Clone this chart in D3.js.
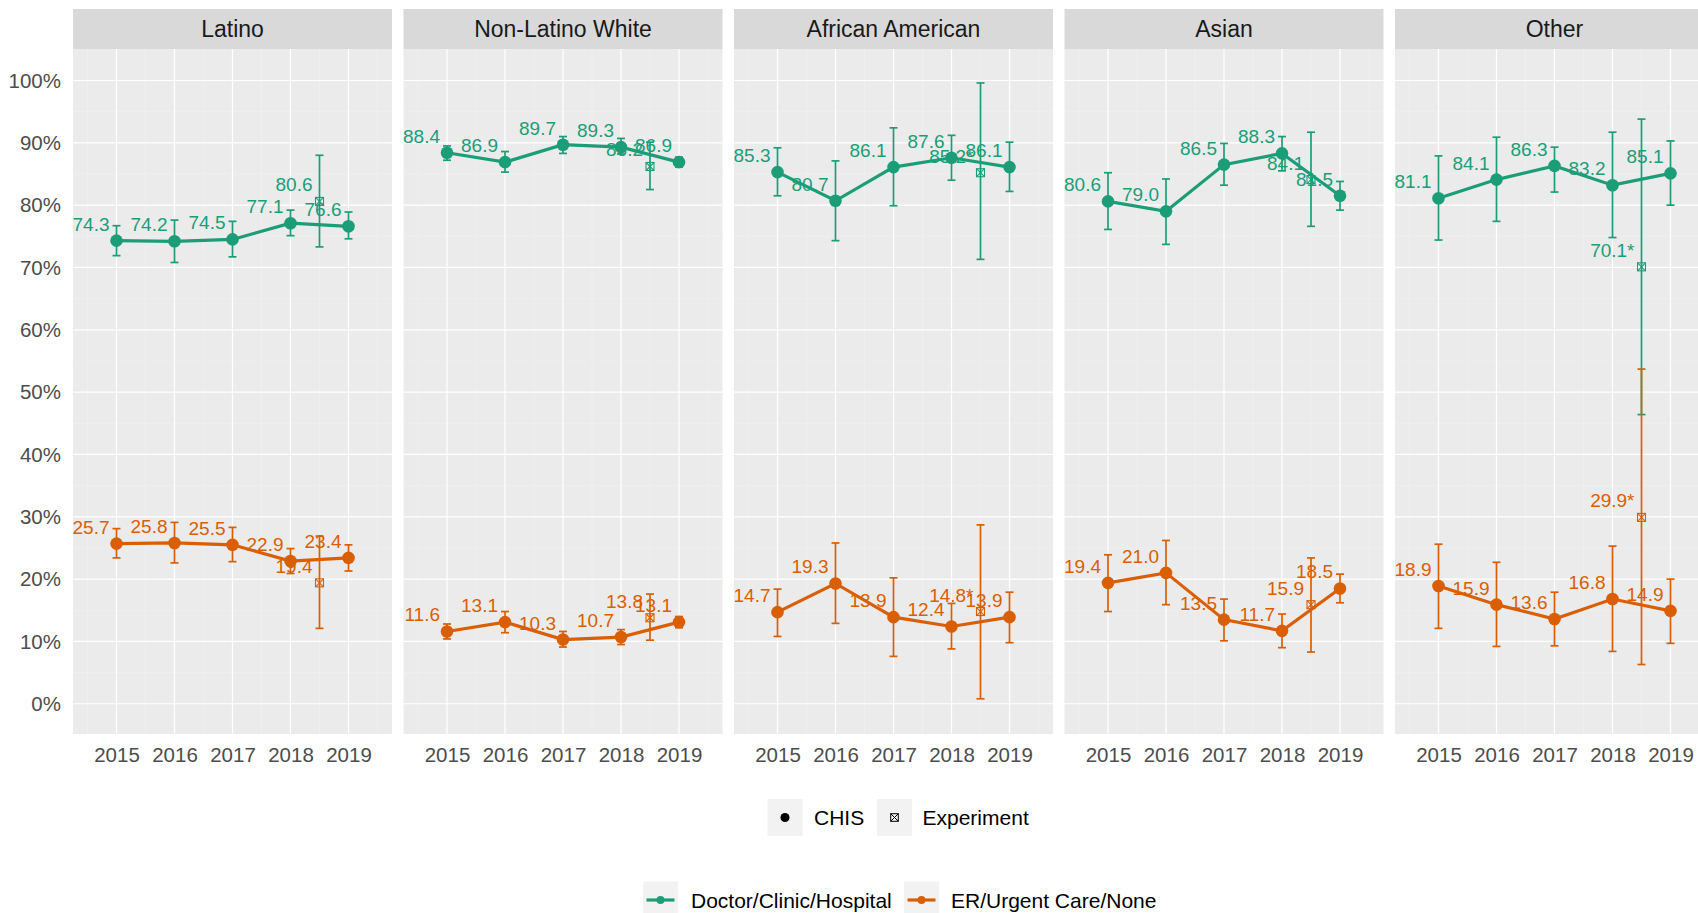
<!DOCTYPE html>
<html>
<head>
<meta charset="utf-8">
<script src="https://cdn.jsdelivr.net/npm/d3@7"></script>
<style>
  html, body { margin: 0; padding: 0; background: #ffffff; }
  svg { display: block; font-family: "Liberation Sans", Arial, sans-serif; }
</style>
</head>
<body>
<svg id="chart" width="1698" height="913"></svg>
<script>
// ---------------- data ----------------
const groups = ["Latino", "Non-Latino White", "African American", "Asian", "Other"];
const years = [2015, 2016, 2017, 2018, 2019];
const yearTicks = ["2015", "2016", "2017", "2018", "2019"];
const expYear = 2018.5;
const yTicks = [0, 10, 20, 30, 40, 50, 60, 70, 80, 90, 100];
const seriesNames = ["Doctor/Clinic/Hospital", "ER/Urgent Care/None"];
const sourceNames = ["CHIS", "Experiment"];

// CHIS: Doctor/Clinic/Hospital
const doctorValues = [
  [74.3, 74.2, 74.5, 77.1, 76.6],
  [88.4, 86.9, 89.7, 89.3, 86.9],
  [85.3, 80.7, 86.1, 87.6, 86.1],
  [80.6, 79.0, 86.5, 88.3, 81.5],
  [81.1, 84.1, 86.3, 83.2, 85.1]
];
const doctorLow = [
  [71.9, 70.8, 71.7, 75.1, 74.6],
  [87.2, 85.3, 88.3, 88.2, 86.1],
  [81.5, 74.3, 79.9, 84.0, 82.2],
  [76.1, 73.7, 83.2, 85.5, 79.2],
  [74.4, 77.4, 82.1, 74.8, 80.0]
];
const doctorHigh = [
  [76.7, 77.6, 77.4, 79.2, 78.9],
  [89.5, 88.6, 91.0, 90.7, 87.7],
  [89.2, 87.1, 92.4, 91.2, 90.1],
  [85.2, 84.2, 89.9, 91.0, 83.8],
  [87.9, 90.9, 89.3, 91.7, 90.3]
];
// CHIS: ER/Urgent Care/None
const erValues = [
  [25.7, 25.8, 25.5, 22.9, 23.4],
  [11.6, 13.1, 10.3, 10.7, 13.1],
  [14.7, 19.3, 13.9, 12.4, 13.9],
  [19.4, 21.0, 13.5, 11.7, 18.5],
  [18.9, 15.9, 13.6, 16.8, 14.9]
];
const erLow = [
  [23.4, 22.6, 22.8, 20.9, 21.3],
  [10.4, 11.4, 9.1, 9.5, 12.2],
  [10.8, 12.9, 7.6, 8.8, 9.8],
  [14.8, 15.9, 10.1, 9.0, 16.2],
  [12.1, 9.2, 9.3, 8.4, 9.7]
];
const erHigh = [
  [28.1, 29.1, 28.3, 24.9, 25.5],
  [12.8, 14.8, 11.6, 11.9, 14.0],
  [18.4, 25.8, 20.2, 16.1, 17.9],
  [23.9, 26.2, 16.8, 14.4, 20.8],
  [25.6, 22.7, 17.9, 25.3, 20.0]
];
// Experiment (one estimate per group)
const expDoctorValues = [80.6, 86.2, 85.2, 84.1, 70.1];
const expDoctorLow = [73.3, 82.5, 71.3, 76.6, 46.4];
const expDoctorHigh = [88.0, 90.1, 99.6, 91.7, 93.8];
const expDoctorLabels = ["80.6", "86.2", "85.2*", "84.1", "70.1*"];
const expErValues = [19.4, 13.8, 14.8, 15.9, 29.9];
const expErLow = [12.1, 10.2, 0.8, 8.3, 6.3];
const expErHigh = [26.9, 17.6, 28.7, 23.4, 53.7];
const expErLabels = ["19.4", "13.8", "14.8*", "15.9", "29.9*"];

// ---------------- styling / layout ----------------
const colors = ["#1b9e77", "#d95f02"];
const panelLeft0 = 73, panelStep = 330.5, panelW = 319;
const panelTop = 49, panelBottom = 734, stripTop = 9;

const svg = d3.select("#chart");
svg.append("rect").attr("width", 1698).attr("height", 913).attr("fill", "#ffffff");

const y = d3.scaleLinear().domain([-4.85, 105.05]).range([panelBottom, panelTop]);

// y axis labels (left only)
const yAxis = d3.axisLeft(y).tickValues(yTicks).tickFormat(d => d + "%").tickSize(0).tickPadding(0);
const yg = svg.append("g").attr("transform", `translate(${panelLeft0 - 12},0)`).call(yAxis);
yg.select(".domain").remove();
yg.selectAll("text").attr("font-size", 20.5).attr("fill", "#4d4d4d")
  .attr("font-family", "Liberation Sans, Arial, sans-serif");

const series = [
  { vals: doctorValues, lo: doctorLow, hi: doctorHigh, ev: expDoctorValues, elo: expDoctorLow, ehi: expDoctorHigh, el: expDoctorLabels },
  { vals: erValues, lo: erLow, hi: erHigh, ev: expErValues, elo: expErLow, ehi: expErHigh, el: expErLabels }
];

groups.forEach((gname, gi) => {
  const left = panelLeft0 + gi * panelStep;
  const x = d3.scaleLinear().domain([2014.25, 2019.75]).range([left, left + panelW]);
  const g = svg.append("g");

  // panel background
  g.append("rect").attr("x", left).attr("y", panelTop).attr("width", panelW)
    .attr("height", panelBottom - panelTop).attr("fill", "#ebebeb");
  // minor grid
  const yMinor = d3.range(5, 101, 10);
  g.selectAll(".ymin").data(yMinor).join("line")
    .attr("x1", left).attr("x2", left + panelW)
    .attr("y1", d => y(d)).attr("y2", d => y(d))
    .attr("stroke", "#f1f1f1").attr("stroke-width", 0.6);
  const xMinor = [2014.5, 2015.5, 2016.5, 2017.5, 2018.5, 2019.5];
  g.selectAll(".xmin").data(xMinor).join("line")
    .attr("x1", d => x(d)).attr("x2", d => x(d))
    .attr("y1", panelTop).attr("y2", panelBottom)
    .attr("stroke", "#f1f1f1").attr("stroke-width", 0.6);
  // major grid
  g.selectAll(".ymaj").data(yTicks).join("line")
    .attr("x1", left).attr("x2", left + panelW)
    .attr("y1", d => y(d)).attr("y2", d => y(d))
    .attr("stroke", "#ffffff").attr("stroke-width", 1.2);
  g.selectAll(".xmaj").data(years).join("line")
    .attr("x1", d => x(d)).attr("x2", d => x(d))
    .attr("y1", panelTop).attr("y2", panelBottom)
    .attr("stroke", "#ffffff").attr("stroke-width", 1.2);

  // strip
  g.append("rect").attr("x", left).attr("y", stripTop).attr("width", panelW)
    .attr("height", panelTop - stripTop).attr("fill", "#d9d9d9");
  g.append("text").attr("x", left + panelW / 2).attr("y", (stripTop + panelTop) / 2 + 8)
    .attr("text-anchor", "middle").attr("font-size", 23).attr("fill", "#1a1a1a").text(gname);

  // x axis labels
  const xAxis = d3.axisBottom(x).tickValues(years).tickFormat((d, i) => yearTicks[i]).tickSize(0).tickPadding(0);
  const xg = g.append("g").attr("transform", `translate(0,${panelBottom + 13})`).call(xAxis);
  xg.select(".domain").remove();
  xg.selectAll("text").attr("font-size", 20.5).attr("fill", "#4d4d4d")
    .attr("font-family", "Liberation Sans, Arial, sans-serif");

  const capW = 4;
  // errorbars
  series.forEach((s, si) => {
    const col = colors[si];
    const eb = years.map((yr, i) => ({ x: yr, lo: s.lo[gi][i], hi: s.hi[gi][i] }));
    eb.push({ x: expYear, lo: s.elo[gi], hi: s.ehi[gi] });
    const ebg = g.append("g").attr("stroke", col).attr("stroke-width", 1.7).attr("fill", "none");
    ebg.selectAll(".v").data(eb).join("line")
      .attr("x1", d => x(d.x)).attr("x2", d => x(d.x))
      .attr("y1", d => y(d.lo)).attr("y2", d => y(d.hi));
    ebg.selectAll(".t").data(eb).join("line")
      .attr("x1", d => x(d.x) - capW).attr("x2", d => x(d.x) + capW)
      .attr("y1", d => y(d.hi)).attr("y2", d => y(d.hi));
    ebg.selectAll(".b").data(eb).join("line")
      .attr("x1", d => x(d.x) - capW).attr("x2", d => x(d.x) + capW)
      .attr("y1", d => y(d.lo)).attr("y2", d => y(d.lo));
  });
  // lines, points, markers
  series.forEach((s, si) => {
    const col = colors[si];
    const pts = years.map((yr, i) => ({ x: yr, v: s.vals[gi][i] }));
    g.append("path").datum(pts)
      .attr("d", d3.line().x(d => x(d.x)).y(d => y(d.v)))
      .attr("fill", "none").attr("stroke", col).attr("stroke-width", 3.2);
    g.selectAll(null).data(pts).join("circle")
      .attr("cx", d => x(d.x)).attr("cy", d => y(d.v)).attr("r", 6.3).attr("fill", col);
    // experiment marker: square cross
    const ex = x(expYear), ey = y(s.ev[gi]), h = 4;
    const mk = g.append("g").attr("stroke", col).attr("stroke-width", 1.1).attr("fill", "none");
    mk.append("rect").attr("x", ex - h).attr("y", ey - h).attr("width", 2 * h).attr("height", 2 * h);
    mk.append("line").attr("x1", ex - h).attr("y1", ey - h).attr("x2", ex + h).attr("y2", ey + h);
    mk.append("line").attr("x1", ex - h).attr("y1", ey + h).attr("x2", ex + h).attr("y2", ey - h);
  });
  // labels
  series.forEach((s, si) => {
    const col = colors[si];
    const labs = years.map((yr, i) => ({ x: yr, v: s.vals[gi][i], t: s.vals[gi][i].toFixed(1) }));
    labs.push({ x: expYear, v: s.ev[gi], t: s.el[gi] });
    g.selectAll(null).data(labs).join("text")
      .attr("x", d => x(d.x) - 7).attr("y", d => y(d.v) - 10)
      .attr("text-anchor", "end").attr("font-size", 19).attr("fill", col).text(d => d.t);
  });
});

// ---------------- legends ----------------
const leg = svg.append("g");
const keyW = 35, keyH = 37;
// row 1: source (shape)
const r1y = 799;
[[767.5, 814], [877, 922.5]].forEach((pos, i) => {
  leg.append("rect").attr("x", pos[0]).attr("y", r1y).attr("width", keyW).attr("height", keyH).attr("fill", "#f2f2f2");
  const cx = pos[0] + keyW / 2, cy = r1y + keyH / 2;
  if (i === 0) {
    leg.append("circle").attr("cx", cx).attr("cy", cy).attr("r", 4.5).attr("fill", "#000");
  } else {
    const h = 3.8;
    const m = leg.append("g").attr("stroke", "#000").attr("stroke-width", 1).attr("fill", "none");
    m.append("rect").attr("x", cx - h).attr("y", cy - h).attr("width", 2 * h).attr("height", 2 * h);
    m.append("line").attr("x1", cx - h).attr("y1", cy - h).attr("x2", cx + h).attr("y2", cy + h);
    m.append("line").attr("x1", cx - h).attr("y1", cy + h).attr("x2", cx + h).attr("y2", cy - h);
  }
  leg.append("text").attr("x", pos[1]).attr("y", cy + 7.5).attr("font-size", 21).attr("fill", "#000")
    .text(sourceNames[i]);
});
// row 2: series (colour)
const r2y = 881.5;
[[643, 691], [904, 951]].forEach((pos, i) => {
  leg.append("rect").attr("x", pos[0]).attr("y", r2y).attr("width", keyW).attr("height", keyH).attr("fill", "#f2f2f2");
  const cy = 900;
  leg.append("line").attr("x1", pos[0] + 3.5).attr("x2", pos[0] + keyW - 3.5)
    .attr("y1", cy).attr("y2", cy).attr("stroke", colors[i]).attr("stroke-width", 3.2);
  leg.append("circle").attr("cx", pos[0] + keyW / 2).attr("cy", cy).attr("r", 4).attr("fill", colors[i]);
  leg.append("text").attr("x", pos[1]).attr("y", cy + 7.5).attr("font-size", 21).attr("fill", "#000")
    .text(seriesNames[i]);
});
</script>
</body>
</html>
